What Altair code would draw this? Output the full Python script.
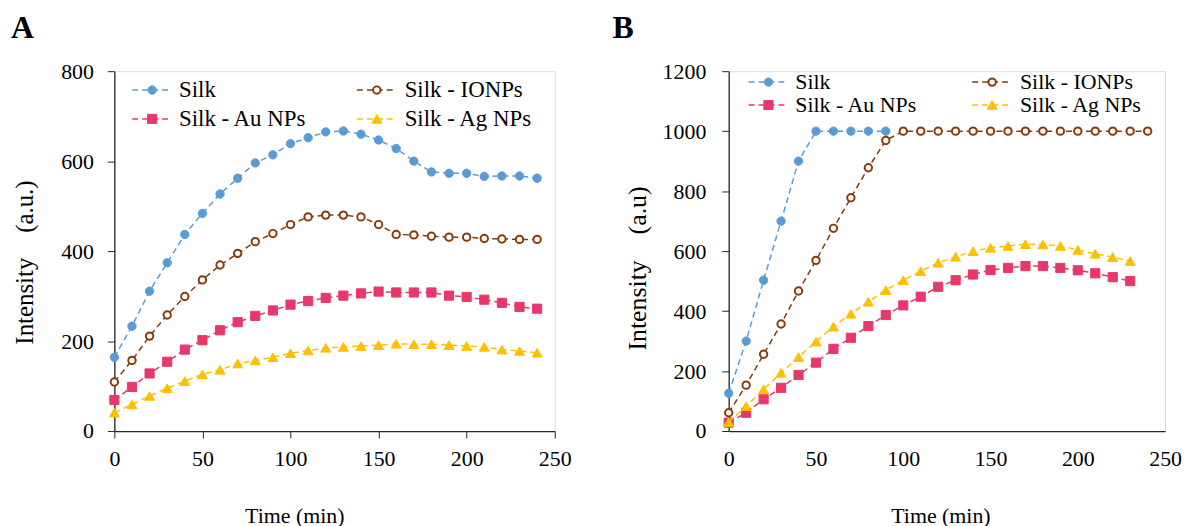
import altair as alt
import pandas as pd

# ---------------- data ----------------
series_names = ["Silk", "Silk - IONPs", "Silk - Au NPs", "Silk - Ag NPs"]

time_a = [0, 10, 20, 30, 40, 50, 60, 70, 80, 90, 100, 110, 120, 130, 140, 150,
          160, 170, 180, 190, 200, 210, 220, 230, 240]
silk_a = [164, 233, 311, 374, 437, 484, 527, 562, 596, 614, 639, 652, 665, 667,
          660, 647, 628, 600, 576, 573, 573, 566, 567, 567, 562]
ionps_a = [109, 157, 211, 258, 299, 336, 369, 395, 421, 439, 459, 476, 480, 480,
           476, 459, 437, 436, 433, 431, 431, 428, 427, 426, 426]
au_a = [69, 98, 128, 154, 181, 202, 224, 242, 256, 268, 281, 289, 296, 301,
        306, 310, 308, 308, 308, 301, 298, 292, 285, 276, 272]
ag_a = [41, 59, 78, 95, 111, 126, 136, 150, 157, 164, 173, 179, 185, 187,
        189, 191, 194, 193, 193, 191, 189, 187, 181, 178, 174]

time_b_silk = [0, 10, 20, 30, 40, 50, 60, 70, 80, 90]
silk_b = [126, 300, 503, 700, 900, 1000, 1000, 1000, 1000, 1000]
time_b_ionps = [0, 10, 20, 30, 40, 50, 60, 70, 80, 90, 100, 110, 120, 130, 140,
                150, 160, 170, 180, 190, 200, 210, 220, 230, 240]
ionps_b = [61, 153, 256, 357, 467, 569, 676, 778, 878, 969, 1000, 1000, 1000,
           1000, 1000, 1000, 1000, 1000, 1000, 1000, 1000, 1000, 1000, 1000, 1000]
time_b_np = [0, 10, 20, 30, 40, 50, 60, 70, 80, 90, 100, 110, 120, 130, 140,
             150, 160, 170, 180, 190, 200, 210, 220, 230]
au_b = [28, 61, 106, 144, 187, 228, 274, 311, 350, 387, 419, 448, 481, 503,
        522, 537, 544, 550, 550, 544, 536, 526, 513, 500]
ag_b = [30, 83, 139, 194, 247, 298, 348, 391, 431, 470, 503, 533, 561, 581,
        600, 611, 617, 623, 622, 617, 604, 591, 580, 567]

x_ticks = [0, 50, 100, 150, 200, 250]
y_ticks_a = [0, 200, 400, 600, 800]
y_ticks_b = [0, 200, 400, 600, 800, 1000, 1200]

# ---------------- styles ----------------
FONT = "Liberation Serif"
styles = {
    "Silk": dict(color="#5B9BD5", shape="circle", fill="#5B9BD5", size=70, sw=1),
    "Silk - IONPs": dict(color="#843C0C", shape="circle", fill="white", size=55, sw=2),
    "Silk - Au NPs": dict(color="#E6396A", shape="square", fill="#E6396A", size=85, sw=1),
    "Silk - Ag NPs": dict(color="#FFC000", shape="triangle-up", fill="#FFC000", size=100, sw=1),
}

letter_x = {"A": -104, "B": -117}


def panel(data, ymax, yticks, width, height, letter, ytitle, ytitle_size, x_has_ticks,
          ylab_pad, xlab_pad, ytitle_x, ytitle_y, xtitle_x, legend_rows, legend_cols,
          legend_size):
    xs = alt.Scale(domain=[0, 250], nice=False, zero=False)
    ys = alt.Scale(domain=[0, ymax], nice=False)
    xaxis = alt.Axis(values=x_ticks, format="d", grid=False, ticks=x_has_ticks, tickSize=7,
                     tickColor="#262626", domainColor="#262626", domainWidth=1.3,
                     labelFont=FONT, labelFontSize=22, labelColor="black",
                     labelPadding=xlab_pad, labelFlush=False,
                     title="Time (min)", titleFont=FONT, titleFontSize=22,
                     titleFontWeight="normal", titleColor="black",
                     titleX=xtitle_x, titleY=85, titleBaseline="middle",
                     titleAlign="center", titleAnchor="start")
    yaxis = alt.Axis(values=yticks, format="d", grid=False, ticks=True, tickSize=7,
                     tickColor="#262626", domainColor="#262626", domainWidth=1.3,
                     labelFont=FONT, labelFontSize=22, labelColor="black",
                     labelPadding=ylab_pad, labelFlush=False,
                     title=ytitle, titleFont=FONT, titleFontSize=ytitle_size,
                     titleFontWeight="normal", titleColor="black",
                     titleX=ytitle_x, titleY=ytitle_y, titleBaseline="middle",
                     titleAlign="center", titleAngle=270, titleAnchor="start")
    layers = []
    for name, (tt, vv) in data.items():
        st = styles[name]
        df = pd.DataFrame({"t": tt, "v": vv, "s": name})
        enc = dict(x=alt.X("t:Q", scale=xs, axis=xaxis),
                   y=alt.Y("v:Q", scale=ys, axis=yaxis))
        layers.append(alt.Chart(df).mark_line(color=st["color"], strokeDash=[6, 4],
                                              strokeWidth=1.5).encode(**enc))
        layers.append(alt.Chart(df).mark_point(shape=st["shape"], filled=True,
                                               fill=st["fill"], stroke=st["color"],
                                               strokeWidth=st["sw"], size=st["size"],
                                               opacity=1).encode(**enc))
    # legend drawn by hand (two columns)
    for i, name in enumerate(series_names):
        st = styles[name]
        ry = legend_rows[i // 2]
        x1, x2, xc, xt = legend_cols[i % 2]
        one = alt.Chart(pd.DataFrame({"s": [name]}))
        layers.append(one.mark_rule(color=st["color"], strokeDash=[6, 4], strokeWidth=1.5)
                      .encode(x=alt.value(x1), x2=alt.value(x2), y=alt.value(ry)))
        layers.append(one.mark_point(shape=st["shape"], filled=True, fill=st["fill"],
                                     stroke=st["color"], strokeWidth=st["sw"],
                                     size=st["size"], opacity=1)
                      .encode(x=alt.value(xc), y=alt.value(ry)))
        layers.append(one.mark_text(align="left", baseline="middle", font=FONT,
                                    fontSize=legend_size, color="black")
                      .encode(x=alt.value(xt), y=alt.value(ry), text="s:N"))
    layers.append(alt.Chart(pd.DataFrame({"s": [letter]})).mark_text(
        align="left", baseline="middle", font=FONT, fontSize=32, fontWeight="bold",
        color="black").encode(x=alt.value(letter_x[letter]), y=alt.value(-43), text="s:N"))
    return alt.layer(*layers).properties(width=width, height=height)


data_a = {
    "Silk": (time_a, silk_a),
    "Silk - IONPs": (time_a, ionps_a),
    "Silk - Au NPs": (time_a, au_a),
    "Silk - Ag NPs": (time_a, ag_a),
}
data_b = {
    "Silk": (time_b_silk, silk_b),
    "Silk - IONPs": (time_b_ionps, ionps_b),
    "Silk - Au NPs": (time_b_np, au_b),
    "Silk - Ag NPs": (time_b_np, ag_b),
}

pa = panel(data_a, 800, y_ticks_a, 443, 362, "A", "Intensity\u2002\u2002(a.u.)", 25, True,
           14, 11, -90, 192, 181, [19, 48],
           [(18, 58, 38, 65), (244, 284, 264, 292)], 23)
pb = panel(data_b, 1200, y_ticks_b, 439, 362, "B", "Intensity\u2003(a.u)", 26, False,
           16, 18, -92, 198, 213, [11, 34],
           [(20, 58, 40, 67), (245, 284, 265, 293)], 22)

chart = alt.hconcat(pa, pb, spacing=40).properties(
    padding={"left": 2, "top": 2, "right": 0, "bottom": 0}
).configure_view(stroke="#262626", strokeWidth=1.3).configure(background="white")

chart.save("out.html", embed_options={"renderer": "svg", "actions": False})
